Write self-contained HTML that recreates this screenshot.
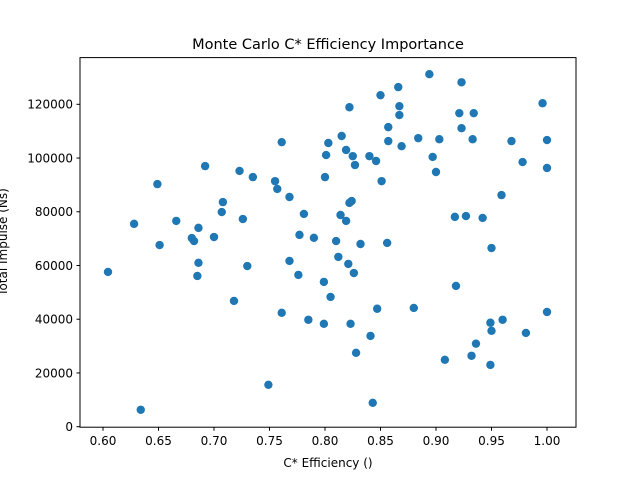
<!DOCTYPE html>
<html><head><meta charset="utf-8"><style>
html,body{margin:0;padding:0;background:#fff;}
svg{display:block;font-family:"DejaVu Sans","Liberation Sans",sans-serif;}
</style></head><body>
<svg id="chart" width="640" height="480" viewBox="0 0 640 480">
<rect width="640" height="480" fill="#fff"/>
<text x="328" y="49" font-size="14.5" text-anchor="middle">Monte Carlo C* Efficiency Importance</text>
<g id="points"></g>
<g id="xt"></g>
<g id="yt"></g>
<rect x="80" y="57.6" width="496" height="369.6" fill="none" stroke="#000" stroke-width="1"/>
<text x="328" y="467" font-size="12" text-anchor="middle">C* Efficiency ()</text>
<text transform="translate(7,242) rotate(-90)" font-size="12" text-anchor="middle">Total Impulse (Ns)</text>
</svg>
<script>
const xValues=[0.6045,0.628,0.634,0.649,0.651,0.666,0.680,0.682,0.686,0.686,0.685,0.692,0.700,0.708,0.707,0.718,0.723,0.726,0.730,0.735,0.749,0.755,0.757,0.761,0.761,0.768,0.768,0.776,0.777,0.781,0.785,0.790,0.799,0.800,0.799,0.801,0.803,0.805,0.810,0.812,0.814,0.815,0.819,0.819,0.821,0.822,0.822,0.824,0.823,0.825,0.826,0.827,0.828,0.832,0.840,0.841,0.843,0.846,0.847,0.850,0.851,0.856,0.857,0.857,0.866,0.867,0.867,0.869,0.880,0.884,0.894,0.897,0.900,0.903,0.908,0.917,0.918,0.921,0.923,0.923,0.927,0.934,0.933,0.932,0.936,0.942,0.949,0.949,0.950,0.950,0.959,0.960,0.968,0.978,0.981,0.996,1.000,1.000,1.000];
const yValues=[57600,75500,6300,90300,67600,76600,70200,69100,74000,61000,56100,97000,70600,83600,79900,46800,95200,77300,59800,92900,15600,91400,88500,105900,42400,85500,61700,56500,71400,79200,39800,70300,53900,92900,38300,101100,105600,48300,69100,63200,78800,108200,103000,76600,60600,118900,83300,84000,38300,100700,57200,97400,27500,68000,100700,33800,8900,98900,43900,123400,91400,68400,111500,106300,126400,119300,116000,104400,44200,107400,131200,100400,94800,107000,24900,78100,52400,116700,128200,111100,78400,116700,107000,26400,30900,77700,38700,23000,66500,35700,86200,39800,106300,98500,34900,120400,106700,96300,42700];
const xTicks=[0.60,0.65,0.70,0.75,0.80,0.85,0.90,0.95,1.00];
const yTicks=[0,20000,40000,60000,80000,100000,120000];
const NS="http://www.w3.org/2000/svg";
function sx(v){return 103+(v-0.6)*1110;}
function sy(v){return 426.7-v*(322.4/120000);}
const pg=document.getElementById('points');
for(let i=0;i<xValues.length;i++){
  const c=document.createElementNS(NS,'circle');
  c.setAttribute('cx',sx(xValues[i]));c.setAttribute('cy',sy(yValues[i]));
  c.setAttribute('r',4.2);c.setAttribute('fill','#1f77b4');
  
  
  pg.appendChild(c);
}
const xg=document.getElementById('xt');
xTicks.forEach(t=>{
  const x=sx(t);
  const l=document.createElementNS(NS,'line');
  l.setAttribute('x1',x);l.setAttribute('x2',x);l.setAttribute('y1',427.2);l.setAttribute('y2',430.7);l.setAttribute('stroke','#000');
  
  
  xg.appendChild(l);
  const tx=document.createElementNS(NS,'text');
  tx.setAttribute('x',x);tx.setAttribute('y',445);tx.setAttribute('font-size','12');tx.setAttribute('text-anchor','middle');
  tx.textContent=t.toFixed(2);
  
  
  xg.appendChild(tx);
});
const yg=document.getElementById('yt');
yTicks.forEach(t=>{
  const y=sy(t);
  const l=document.createElementNS(NS,'line');
  l.setAttribute('x1',76.5);l.setAttribute('x2',80);l.setAttribute('y1',y);l.setAttribute('y2',y);l.setAttribute('stroke','#000');
  
  
  yg.appendChild(l);
  const tx=document.createElementNS(NS,'text');
  tx.setAttribute('x',73);tx.setAttribute('y',y+4.3);tx.setAttribute('font-size','12');tx.setAttribute('text-anchor','end');
  tx.textContent=String(t);
  
  
  yg.appendChild(tx);
});
</script>
</body></html>
